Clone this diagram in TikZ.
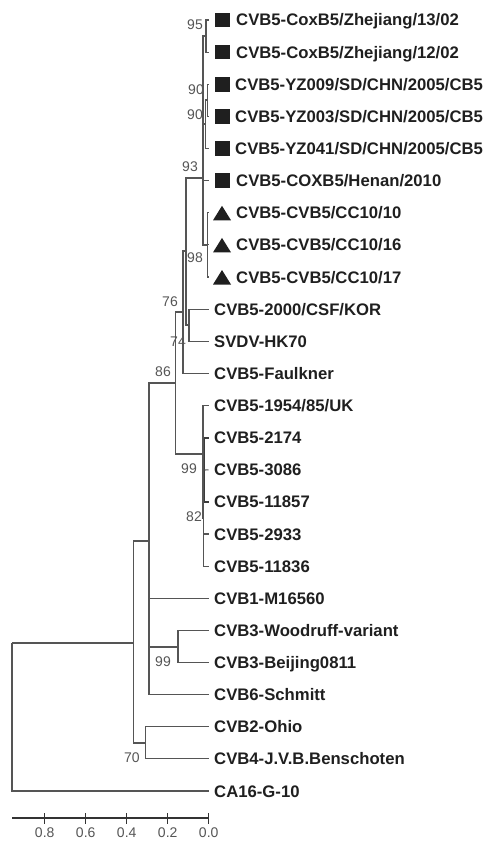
\documentclass[tikz,border=0pt]{standalone}
\usepackage{fontspec}
\setmainfont{Liberation Sans}
\definecolor{linegray}{HTML}{555555}
\definecolor{bootgray}{HTML}{555555}
\begin{document}
\begin{tikzpicture}[x=1pt,y=-1pt,
  br/.style={draw=linegray, line width=1.1pt},
  thickbr/.style={draw=linegray!70!black, line width=1.9pt},
  leaf/.style={anchor=base west, inner sep=0pt, font=\fontsize{16.7}{18}\selectfont\bfseries, text=black!88},
  boot/.style={inner sep=0pt, font=\fontsize{14}{15}\selectfont, text=bootgray},
  axlab/.style={inner sep=0pt, font=\fontsize{14}{16}\selectfont, text=bootgray},
  sqmark/.style={fill=black!88, minimum size=14.5pt, inner sep=0pt, rectangle},
  trimark/.pic={\fill[black!88] (-9,7.5) -- (9,7.5) -- (0,-7) -- cycle;}
]
\useasboundingbox (0,0) rectangle (486,842);

% tips
\foreach \i/\y in {1/20.0,2/52.1,3/84.3,4/116.4,5/148.5,6/180.6,7/212.8,8/244.9,9/277.0,
  10/309.1,11/341.3,12/373.4,13/405.5,14/437.6,15/469.8,16/501.9,17/534.0,18/566.1,
  19/598.3,20/630.4,21/662.5,22/694.6,23/726.8,24/758.9,25/791.0}
  \coordinate (t\i) at (208.5,\y);

% markers
\foreach \i/\y in {1/20.0,2/52.1,3/84.3,4/116.4,5/148.5,6/180.6}
  \node[sqmark] (m\i) at (222.5,\y) {};
\foreach \y in {212.8,244.9,277.0}
  \pic at (222,\y) {trimark};

% leaf labels
\node[leaf] (l1) at (236,26.0) {CVB5-CoxB5/Zhejiang/13/02};
\node[leaf] (l2) at (236,58.1) {CVB5-CoxB5/Zhejiang/12/02};
\node[leaf] (l3) at (235,90.3) {CVB5-YZ009/SD/CHN/2005/CB5};
\node[leaf] (l4) at (235,122.4) {CVB5-YZ003/SD/CHN/2005/CB5};
\node[leaf] (l5) at (235,154.5) {CVB5-YZ041/SD/CHN/2005/CB5};
\node[leaf] (l6) at (236,186.6) {CVB5-COXB5/Henan/2010};
\node[leaf] (l7) at (236,218.8) {CVB5-CVB5/CC10/10};
\node[leaf] (l8) at (236,250.9) {CVB5-CVB5/CC10/16};
\node[leaf] (l9) at (236,283.0) {CVB5-CVB5/CC10/17};
\node[leaf] (l10) at (214,315.1) {CVB5-2000/CSF/KOR};
\node[leaf] (l11) at (214,347.3) {SVDV-HK70};
\node[leaf] (l12) at (214,379.4) {CVB5-Faulkner};
\node[leaf] (l13) at (214,411.5) {CVB5-1954/85/UK};
\node[leaf] (l14) at (214,443.6) {CVB5-2174};
\node[leaf] (l15) at (214,475.8) {CVB5-3086};
\node[leaf] (l16) at (214,507.9) {CVB5-11857};
\node[leaf] (l17) at (214,540.0) {CVB5-2933};
\node[leaf] (l18) at (214,572.1) {CVB5-11836};
\node[leaf] (l19) at (214,604.3) {CVB1-M16560};
\node[leaf] (l20) at (214,636.4) {CVB3-Woodruff-variant};
\node[leaf] (l21) at (214,668.5) {CVB3-Beijing0811};
\node[leaf] (l22) at (214,700.6) {CVB6-Schmitt};
\node[leaf] (l23) at (214,732.8) {CVB2-Ohio};
\node[leaf] (l24) at (214,764.9) {CVB4-J.V.B.Benschoten};
\node[leaf] (l25) at (214,797.0) {CA16-G-10};

% internal nodes
\coordinate (n95) at (206,36);
\coordinate (n90a) at (207.3,100);
\coordinate (n90b) at (205.5,124);
\coordinate (n93) at (203,178);
\coordinate (ntri) at (207.8,245);
\coordinate (nKS) at (189,325);
\coordinate (n74) at (186,251);
\coordinate (n76) at (183,312);
\coordinate (n86) at (175.7,383);
\coordinate (nUK) at (203,454);
\coordinate (n99a) at (204.5,470);
\coordinate (n82) at (203.5,518);
\coordinate (nB) at (149,541);
\coordinate (n3) at (178,647);
\coordinate (nC) at (145.7,743);
\coordinate (nA) at (133.3,643);
\coordinate (root) at (12,643);

% branches
\draw[br] (n95) |- (t1); \draw[br] (n95) |- (t2);
\draw[br] (n90a) |- (t3); \draw[br] (n90a) |- (t4);
\draw[br] (n90b) |- (n90a); \draw[br] (n90b) |- (t5);
\draw[br] (n93) |- (n95); \draw[br] (n93) |- (n90b);
\draw[br] (n93) |- (t6); \draw[br] (n93) |- (ntri);
\draw[br] (ntri) |- (t7); \draw[br] (ntri) |- (t8); \draw[br] (ntri) |- (t9);
\draw[br] (nKS) |- (t10); \draw[br] (nKS) |- (t11);
\draw[br] (n74) |- (n93); \draw[br] (n74) |- (nKS);
\draw[br] (n76) |- (n74); \draw[br] (n76) |- (t12);
\draw[br] (n86) |- (n76); \draw[br] (n86) |- (nUK);
\draw[br] (nUK) |- (t13); \draw[br] (nUK) |- (n82);
\draw[br] (n82) |- (t17); \draw[br] (n82) |- (t18);
\draw[br] (n82) |- (n99a);
\draw[thickbr] (n99a) |- (t14); \draw[thickbr] (n99a) |- (t16);
\draw[br] (n99a) -- (t15);
\draw[br] (nB) |- (n86); \draw[br] (nB) |- (t19);
\draw[br] (nB) |- (n3); \draw[br] (nB) |- (t22);
\draw[br] (n3) |- (t20); \draw[br] (n3) |- (t21);
\draw[br] (nC) |- (t23); \draw[br] (nC) |- (t24);
\draw[br] (nA) |- (nB); \draw[br] (nA) |- (nC);
\draw[br] (root) -- (nA); \draw[br] (root) |- (t25);

% bootstrap values
\node[boot] (b95) at (195,25) {95};
\node[boot] (b90a) at (196,90) {90};
\node[boot] (b90b) at (195,115) {90};
\node[boot] (b93) at (190,167) {93};
\node[boot] (b98) at (195,258) {98};
\node[boot] (b76) at (170,302) {76};
\node[boot] (b74) at (178,342) {74};
\node[boot] (b86) at (163,372) {86};
\node[boot] (b99a) at (189,469) {99};
\node[boot] (b82) at (194,517) {82};
\node[boot] (b99b) at (163,662) {99};
\node[boot] (b70) at (132,758) {70};

% scale axis
\coordinate (ax0) at (12,818);
\coordinate (ax1) at (208.7,818);
\draw[draw=black!80, line width=1.1pt] (ax0) -- (ax1);
\foreach \k/\v in {0/0.0,1/0.2,2/0.4,3/0.6,4/0.8}{
  \coordinate (tk\k) at (208.7-41*\k,818);
  \draw[draw=black!80, line width=1.1pt] ([yshift=5pt]tk\k) -- ([yshift=-6pt]tk\k);
  \node[axlab] (al\k) at (208.7-41*\k,833) {\v};
}
\end{tikzpicture}
\end{document}
